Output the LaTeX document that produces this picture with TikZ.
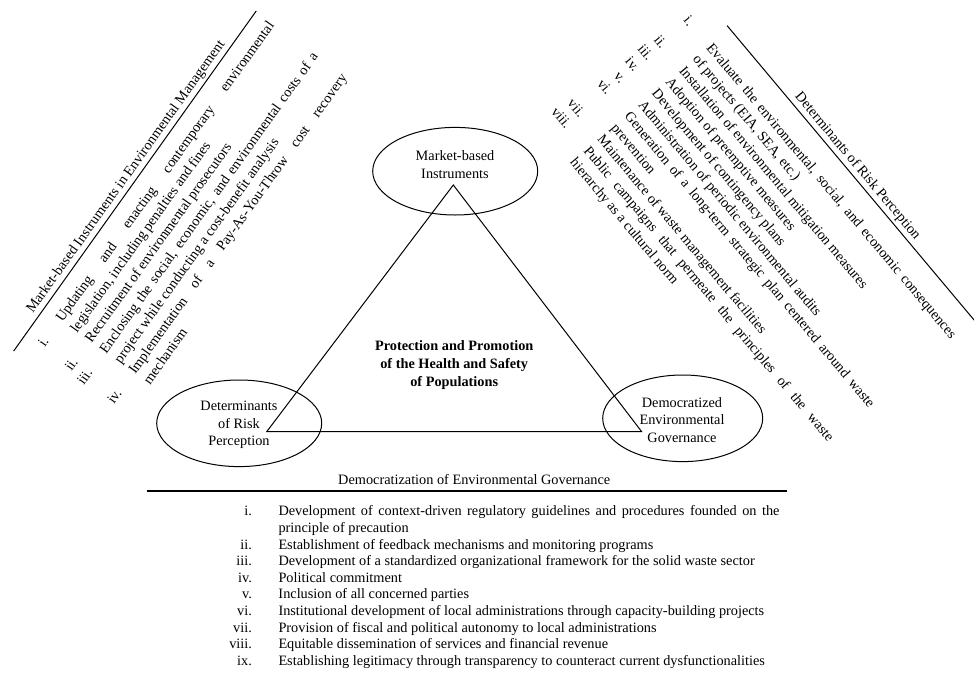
\documentclass[tikz,border=0pt]{standalone}
\usepackage{fontspec}
\setmainfont{Liberation Serif}
\usetikzlibrary{shapes.geometric}

\newlength\numwd
\newlength\numgap
\newcommand\ritem[2]{\par\noindent\hangindent=\numwd\hangafter=1%
  \hbox to\numwd{\hfil#1\hskip\numgap}#2}
\newcommand\listfont[1]{\fontsize{14.3}{#1}\selectfont\tolerance=10000\setlength\numwd{60pt}}

\tikzset{
  bubble/.style={draw, ellipse, line width=1pt, inner sep=0pt},
  bubbletext/.style={align=center, inner sep=0pt, font=\fontsize{14.3}{17.5}\selectfont},
  coretext/.style={align=center, inner sep=0pt, font=\fontsize{14.3}{18.3}\selectfont\bfseries},
  heading/.style={anchor=base, inner sep=0pt, font=\fontsize{14.3}{17}\selectfont},
  itemlist/.style={anchor=base west, inner sep=0pt},
  rulerline/.style={line width=1pt}
}

\begin{document}
\begin{tikzpicture}[x=1pt, y=-1pt]
  \useasboundingbox (0,0) rectangle (974,672);

  \node[bubble, minimum width=165pt, minimum height=87.6pt] (mbi) at (455.2,171.2) {};
  \node[bubble, minimum width=165pt, minimum height=86.6pt] (drp) at (239.2,423.3) {};
  \node[bubble, minimum width=160pt, minimum height=86.6pt] (deg) at (682.7,418.3) {};
  \node[bubbletext] (mbitxt) at (455,164.4) {Market-based\\Instruments};
  \node[bubbletext] (drptxt) at (239,425.2) {Determinants\\of Risk\\Perception};
  \node[bubbletext] (degtxt) at (682,419.7) {Democratized\\Environmental\\Governance};

  \coordinate (apex) at (453.3,185);
  \coordinate (lcorner) at (266.7,431.7);
  \coordinate (rcorner) at (641.7,431.7);
  \draw[line width=1pt] (apex) -- (lcorner) -- (rcorner) -- cycle;
  \node[coretext] (core) at (454.2,365.2) {Protection and Promotion\\of the Health and Safety\\of Populations};

  \begin{scope}[rotate=54.5, transform shape]
    \node[heading] (mbihead) at (-71,209) {Market-based Instruments in Environmental Management};
    \coordinate (mbiruleA) at (-278,215);
    \coordinate (mbiruleB) at (140,215);
    \draw[rulerline] (mbiruleA) -- (mbiruleB);
    \node[itemlist] (mbilist) at (-286.8,238.5) {\begin{minipage}[t]{425.2pt}
      \listfont{17.9}\setlength\numgap{23pt}
      \ritem{i.}{Updating and enacting contemporary environmental\linebreak legislation, including penalties and fines}
      \ritem{ii.}{Recruitment of environmental prosecutors}
      \ritem{iii.}{Enclosing the social, economic, and environmental costs of a\linebreak project while conducting a cost-benefit analysis}
      \ritem{iv.}{Implementation of a Pay-As-You-Throw cost recovery\linebreak mechanism}
    \end{minipage}};
  \end{scope}

  \begin{scope}[rotate=-50, transform shape]
    \node[heading] (drphead) at (678.5,-546.5) {Determinants of Risk Perception};
    \coordinate (drpruleA) at (487,-540.5);
    \coordinate (drpruleB) at (872,-540.5);
    \draw[rulerline] (drpruleA) -- (drpruleB);
    \node[itemlist] (drplist) at (430.5,-509.8) {\begin{minipage}[t]{440.5pt}
      \listfont{17.8}\setlength\numgap{28pt}
      \ritem{i.}{Evaluate the environmental, social, and economic consequences\linebreak of projects (EIA, SEA, etc.)}
      \ritem{ii.}{Installation of environmental mitigation measures}
      \ritem{iii.}{Adoption of preemptive measures}
      \ritem{iv.}{Development of contingency plans}
      \ritem{v.}{Administration of periodic environmental audits}
      \ritem{vi.}{Generation of a long-term strategic plan centered around waste\linebreak prevention}
      \ritem{vii.}{Maintenance of waste management facilities}
      \ritem{viii.}{Public campaigns that permeate the principles of the waste\linebreak hierarchy as a cultural norm}
    \end{minipage}};
  \end{scope}

  \node[heading] (deghead) at (474.2,484.3) {Democratization of Environmental Governance};
  \coordinate (degruleA) at (146.7,490.7);
  \coordinate (degruleB) at (786.7,490.7);
  \draw[line width=1.6pt] (degruleA) -- (degruleB);
  \node[itemlist] (deglist) at (218.3,515.8) {\begin{minipage}[t]{561pt}
    \listfont{16.6}\setlength\numgap{26.6pt}
    \ritem{i.}{Development of context-driven regulatory guidelines and procedures founded on the\linebreak principle of precaution}
    \ritem{ii.}{Establishment of feedback mechanisms and monitoring programs}
    \ritem{iii.}{Development of a standardized organizational framework for the solid waste sector}
    \ritem{iv.}{Political commitment}
    \ritem{v.}{Inclusion of all concerned parties}
    \ritem{vi.}{Institutional development of local administrations through capacity-building projects}
    \ritem{vii.}{Provision of fiscal and political autonomy to local administrations}
    \ritem{viii.}{Equitable dissemination of services and financial revenue}
    \ritem{ix.}{Establishing legitimacy through transparency to counteract current dysfunctionalities}
  \end{minipage}};
\end{tikzpicture}
\end{document}
